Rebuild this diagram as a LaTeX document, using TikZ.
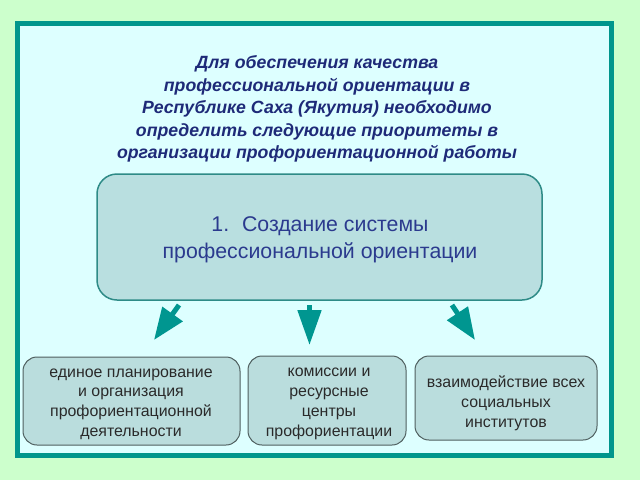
\documentclass[tikz,border=0pt]{standalone}
\usepackage{fontspec}
\setmainfont{Liberation Sans}
\usetikzlibrary{arrows.meta}
\definecolor{bggreen}{HTML}{CCFFCC}
\definecolor{panel}{HTML}{DDFFFF}
\definecolor{frameteal}{HTML}{00968C}
\definecolor{boxfill}{HTML}{B9DFE0}
\definecolor{boxline}{HTML}{2E8B87}
\definecolor{subfill}{HTML}{BADDDD}
\definecolor{subline}{HTML}{4F5F5F}
\definecolor{titleblue}{HTML}{1E2A78}
\definecolor{mainblue}{HTML}{2B3A8E}
\definecolor{subtext}{HTML}{2A2A2A}
\definecolor{arrowteal}{HTML}{009690}
\tikzset{
  titletext/.style={align=center, text=titleblue, font=\fontsize{17.7}{22.5}\selectfont\bfseries\itshape},
  mainbox/.style={draw=boxline, line width=1.5pt, fill=boxfill, rounded corners=20pt, inner sep=0pt},
  maintext/.style={align=center, text=mainblue, font=\fontsize{21.3}{27}\selectfont},
  subbox/.style={draw=subline, line width=1pt, fill=subfill, rounded corners=14pt, inner sep=0pt},
  subtextstyle/.style={align=center, text=subtext, font=\fontsize{15.9}{19.8}\selectfont},
}
\begin{document}
\begin{tikzpicture}[x=1pt,y=-1pt]
\useasboundingbox (0,0) rectangle (640,480);
\fill[bggreen] (0,0) rectangle (640,480);
\draw[frameteal, line width=5pt, fill=panel] (17.5,23.5) rectangle (611.5,455.5);

\node[titletext] (title) at (317,109) {Для обеспечения качества\\профессиональной ориентации в\\Республике Саха (Якутия) необходимо\\определить следующие приоритеты в\\организации профориентационной работы};

\node[mainbox, minimum width=445pt, minimum height=126pt] (main) at (319.5,237) {};
\node[maintext] (maintxt) at (320,240) {1.\hspace{0.6em}Создание системы\hspace{8pt}\\профессиональной ориентации};

\node[subbox, minimum width=217pt, minimum height=88pt] (b1) at (131.5,401) {};
\node[subtextstyle] (t1) at (131,404) {единое планирование\\и организация\\профориентационной\\деятельности};

\node[subbox, minimum width=158pt, minimum height=89pt] (b2) at (327,400.5) {};
\node[subtextstyle] (t2) at (329,404) {комиссии и\\ресурсные\\центры\\профориентации};

\node[subbox, minimum width=182pt, minimum height=84pt] (b3) at (506,398) {};
\node[subtextstyle] (t3) at (506,403) {взаимодействие всех\\социальных\\институтов};

% block arrows
\coordinate (a1s) at (179,305);
\coordinate (a1e) at (154,340);
\coordinate (a2s) at (309.5,305);
\coordinate (a2e) at (309.5,345);
\coordinate (a3s) at (452,305);
\coordinate (a3e) at (475,340);
\draw[arrowteal, line width=5pt, -{Triangle[width=24pt,length=32pt]}] (a1s) -- (a1e);
\draw[arrowteal, line width=5pt, -{Triangle[width=23pt,length=35pt]}] (a2s) -- (a2e);
\draw[arrowteal, line width=5pt, -{Triangle[width=24pt,length=32pt]}] (a3s) -- (a3e);
\end{tikzpicture}
\end{document}
